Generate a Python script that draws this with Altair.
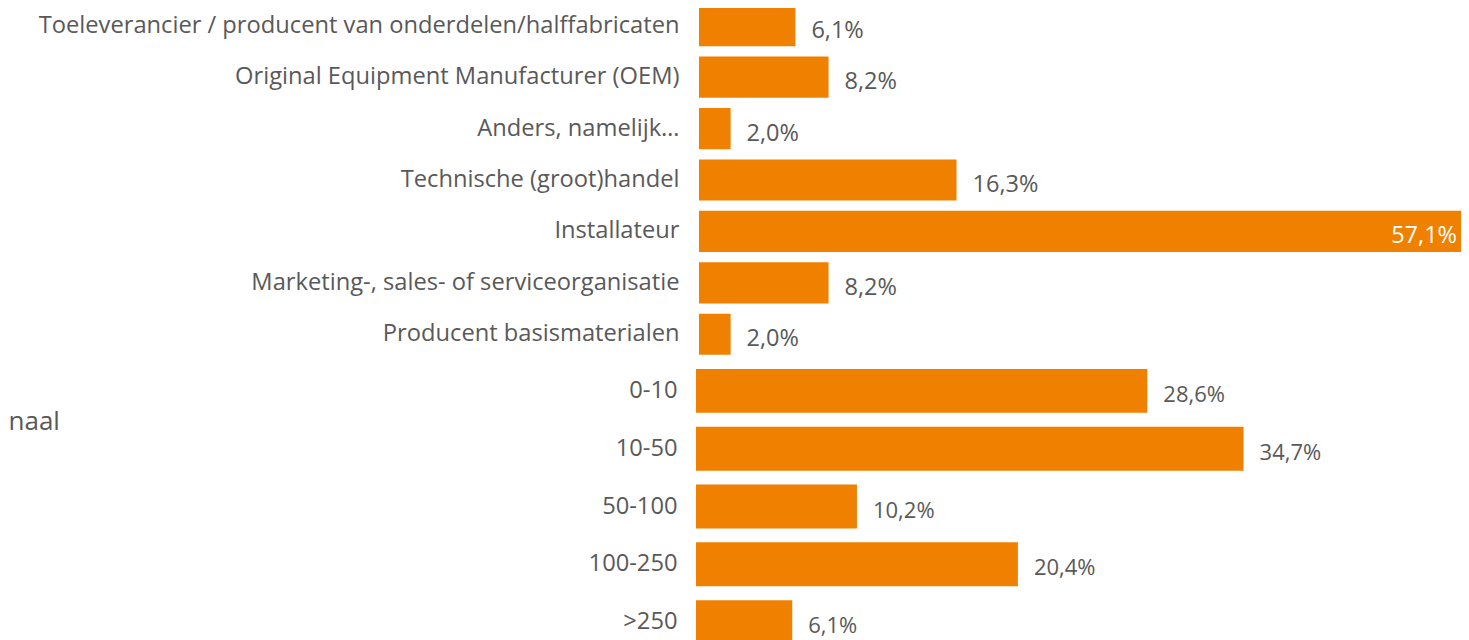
import altair as alt
import pandas as pd

top_cats = [
    "Toeleverancier / producent van onderdelen/halffabricaten",
    "Original Equipment Manufacturer (OEM)",
    "Anders, namelijk…",
    "Technische (groot)handel",
    "Installateur",
    "Marketing-, sales- of serviceorganisatie",
    "Producent basismaterialen",
]
top_vals = [6.1, 8.2, 2.0, 16.3, 57.1, 8.2, 2.0]

bot_cats = ["0-10", "10-50", "50-100", "100-250", ">250"]
bot_vals = [28.6, 34.7, 10.2, 20.4, 6.1]

ORANGE = "#F08000"
GRAY = "#595959"
FONT = "Open Sans"
PLOT_W = 765

label_expr = "replace(format(datum.v, '.1f'), '.', ',') + '%'"


def panel(cats, vals, xdom, height, pin, pout, lab_pad, lab_size, val_size, dy, title_axis=None):
    df = pd.DataFrame({"cat": cats, "v": vals})
    base = alt.Chart(df).transform_calculate(label=label_expr)
    xs = alt.Scale(domain=xdom, clamp=True, nice=False)
    axis_kw = dict(
        domain=False, ticks=False, labelColor=GRAY, labelFont=FONT,
        labelFontSize=lab_size, labelPadding=lab_pad, labelLimit=1000,
    )
    if title_axis:
        axis_kw.update(title_axis)
    else:
        axis_kw["title"] = None
    y = alt.Y("cat:N", sort=cats,
              scale=alt.Scale(paddingInner=pin, paddingOuter=pout),
              axis=alt.Axis(**axis_kw))
    bars = base.mark_bar(color=ORANGE).encode(
        y=y, x=alt.X("v:Q", scale=xs, axis=None))
    out = base.transform_filter("datum.v < 40").mark_text(
        align="left", baseline="middle", dx=16, dy=dy,
        fontSize=val_size, font=FONT, color=GRAY,
    ).encode(y=alt.Y("cat:N", sort=cats), x="v:Q", text="label:N")
    inside = base.transform_filter("datum.v >= 40").mark_text(
        align="right", baseline="middle", dx=-4, dy=dy,
        fontSize=val_size, font=FONT, color="white",
    ).encode(y=alt.Y("cat:N", sort=cats), x="v:Q", text="label:N")
    return alt.layer(bars, out, inside).properties(width=PLOT_W, height=height)


top = panel(top_cats, top_vals, [-0.19, 48.23], 360, 0.2, 0.1, 17, 23.7, 23.5, 5)
bottom = panel(
    bot_cats, bot_vals, [0, 48.48], 289, 0.24, 0.12, 19, 23.7, 22, 4,
    title_axis=dict(
        title="naal", titleAngle=0, titleAlign="left", titleBaseline="alphabetic",
        titleX=-688, titleY=67, titleFont=FONT, titleFontSize=26,
        titleFontWeight="normal", titleColor=GRAY,
    ),
)

chart = alt.vconcat(top, bottom, spacing=2).properties(
    padding={"left": 0, "top": -8, "right": 0, "bottom": 0},
    background="white",
).configure_view(stroke=None)

chart.save("out.html", embed_options={"renderer": "svg", "actions": False})
